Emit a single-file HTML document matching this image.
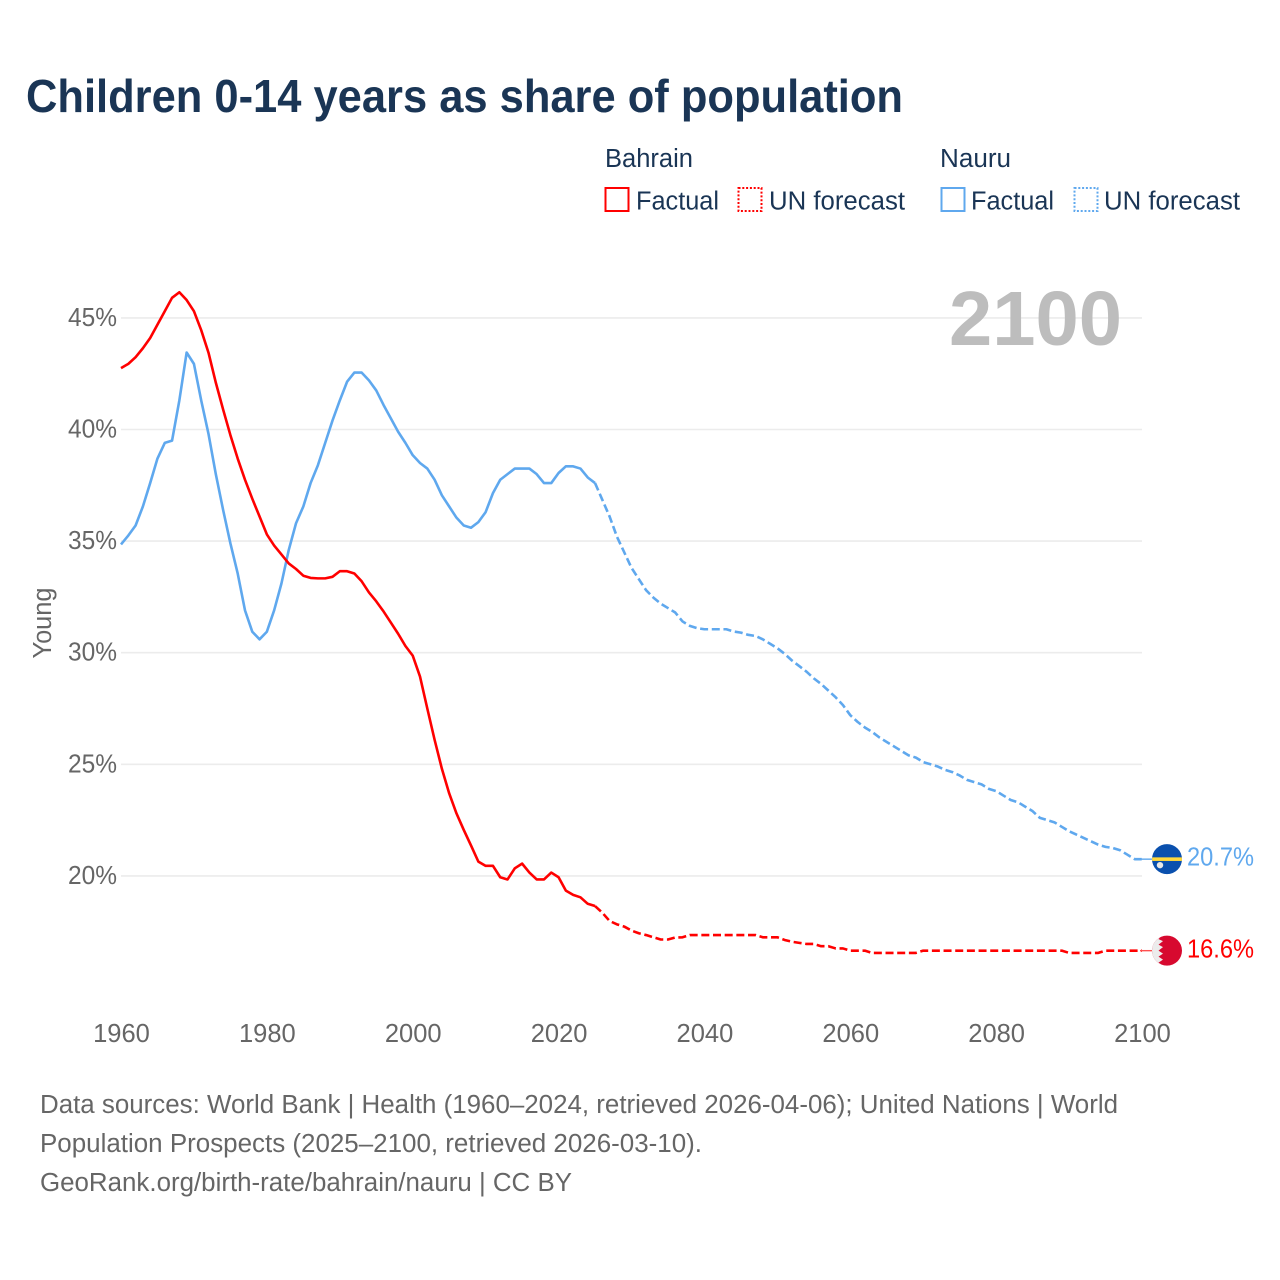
<!DOCTYPE html>
<html lang="en">
<head>
<meta charset="utf-8">
<title>Children 0-14 years as share of population</title>
<style>
  html, body { margin: 0; padding: 0; background: #fff; }
  svg { display: block; }
  text { font-family: "Liberation Sans", sans-serif; }
</style>
</head>
<body>
<svg id="chart" xmlns="http://www.w3.org/2000/svg" width="1280" height="1280" viewBox="0 0 1280 1280">
  <rect width="1280" height="1280" fill="#fff"/>
  <text x="26" y="112" font-size="46" font-weight="700" fill="#1a3555" textLength="877" lengthAdjust="spacingAndGlyphs">Children 0-14 years as share of population</text>

  <g font-size="25.5" fill="#1a3555">
    <text x="605" y="167" textLength="88" lengthAdjust="spacingAndGlyphs">Bahrain</text>
    <rect x="605.5" y="188" width="23" height="23" fill="none" stroke="#ff0000" stroke-width="2"/>
    <text x="636" y="209.5" textLength="83" lengthAdjust="spacingAndGlyphs">Factual</text>
    <rect x="738.5" y="188" width="23" height="23" fill="none" stroke="#ff0000" stroke-width="2" stroke-dasharray="2 1.8"/>
    <text x="769" y="209.5" textLength="136" lengthAdjust="spacingAndGlyphs">UN forecast</text>
    <text x="940" y="167" textLength="71" lengthAdjust="spacingAndGlyphs">Nauru</text>
    <rect x="941.5" y="188" width="23" height="23" fill="none" stroke="#5fa8ee" stroke-width="2"/>
    <text x="971" y="209.5" textLength="83" lengthAdjust="spacingAndGlyphs">Factual</text>
    <rect x="1074.5" y="188" width="23" height="23" fill="none" stroke="#5fa8ee" stroke-width="2" stroke-dasharray="2 1.8"/>
    <text x="1104" y="209.5" textLength="136" lengthAdjust="spacingAndGlyphs">UN forecast</text>
  </g>

  <g id="grid"></g>
  <g id="yticks"></g>
  <g id="xticks"></g>
  <text transform="translate(51 623) rotate(-90)" text-anchor="middle" font-size="25.5" fill="#666" textLength="71" lengthAdjust="spacingAndGlyphs">Young</text>
  <text x="949" y="345" font-size="77" font-weight="700" fill="#bdbdbd" textLength="173" lengthAdjust="spacingAndGlyphs">2100</text>

  <g id="series"></g>

  <defs>
    <clipPath id="clip-nauru"><circle id="clip-nauru-c" cx="1167" cy="859" r="15"/></clipPath>
    <clipPath id="clip-bahrain"><circle id="clip-bahrain-c" cx="1167" cy="951" r="15"/></clipPath>
  </defs>
  <g id="flag-nauru">
    <g clip-path="url(#clip-nauru)">
      <rect x="1150" y="842" width="34" height="34" fill="#0a50ae"/>
      <rect x="1150" y="857.2" width="34" height="3.6" fill="#ffd83c"/>
      <circle cx="1160" cy="865" r="3.2" fill="#e8e8e8"/>
    </g>
  </g>
  <g id="flag-bahrain">
    <g clip-path="url(#clip-bahrain)">
      <rect x="1150" y="934" width="34" height="34" fill="#d7092f"/>
      <polygon fill="#ececec" points="1150,934 1163,934 1158.5,939.5 1163,941.5 1158.5,945 1163,947.5 1158.5,951 1163,954 1158.5,957 1163,960 1158.5,963 1163,966 1159,968 1150,968"/>
    </g>
  </g>
  <text id="label-nauru" x="1187" y="866" font-size="25.5" fill="#5fa8ee" textLength="67" lengthAdjust="spacingAndGlyphs"></text>
  <text id="label-bahrain" x="1187" y="958" font-size="25.5" fill="#ff0000" textLength="67" lengthAdjust="spacingAndGlyphs"></text>

  <g font-size="25.5" fill="#666">
    <text x="40" y="1113" textLength="1078" lengthAdjust="spacingAndGlyphs">Data sources: World Bank | Health (1960–2024, retrieved 2026-04-06); United Nations | World</text>
    <text x="40" y="1152" textLength="662" lengthAdjust="spacingAndGlyphs">Population Prospects (2025–2100, retrieved 2026-03-10).</text>
    <text x="40" y="1191" textLength="532" lengthAdjust="spacingAndGlyphs">GeoRank.org/birth-rate/bahrain/nauru | CC BY</text>
  </g>
</svg>

<script>
const firstYear = 1960;
const forecastStartYear = 2025;
const xTicks = [1960, 1980, 2000, 2020, 2040, 2060, 2080, 2100];
const yTicks = [20, 25, 30, 35, 40, 45];
const endLabelNauru = '20.7%';
const endLabelBahrain = '16.6%';

const bahrainFactual = [
  42.75,42.94,43.24,43.64,44.1,44.7,45.3,45.9,46.15,45.8,
  45.3,44.45,43.44,42.1,40.9,39.75,38.7,37.75,36.9,36.1,
  35.3,34.8,34.4,34.0,33.75,33.45,33.35,33.33,33.33,33.4,
  33.65,33.65,33.55,33.2,32.7,32.3,31.85,31.35,30.85,30.3,
  29.87,28.93,27.5,26.1,24.8,23.7,22.8,22.06,21.36,20.64,
  20.45,20.45,19.94,19.84,20.34,20.55,20.15,19.84,19.84,20.15,
  19.94,19.34,19.15,19.04,18.75,18.65
];
const bahrainForecast = [
  18.65,18.35,17.98,17.83,17.73,17.55,17.43,17.35,17.25,17.15,17.15,17.24,17.25,17.35,17.35,
  17.35,17.35,17.35,17.35,17.35,17.35,17.35,17.35,
  17.25,17.25,17.25,17.13,17.05,17.0,16.95,16.95,16.85,16.85,16.75,16.75,
  16.65,16.65,16.65,
  16.55,16.55,16.55,16.55,16.55,16.55,16.55,
  16.65,16.65,16.65,16.65,16.65,16.65,16.65,16.65,16.65,16.65,
  16.65,16.65,16.65,16.65,16.65,16.65,16.65,16.65,16.65,16.65,
  16.55,16.55,16.55,16.55,16.55,
  16.65,16.65,16.65,16.65,16.65,16.65
];
const nauruFactual = [
  34.85,35.25,35.7,36.55,37.6,38.7,39.4,39.5,41.3,43.45,
  42.94,41.3,39.8,38.0,36.4,34.9,33.55,31.9,30.94,30.6,
  30.94,31.9,33.1,34.6,35.8,36.55,37.6,38.4,39.4,40.4,
  41.3,42.14,42.55,42.55,42.2,41.75,41.1,40.5,39.9,39.4,
  38.85,38.5,38.25,37.75,37.05,36.55,36.05,35.7,35.6,35.85,
  36.3,37.15,37.75,38.0,38.25,38.25,38.25,38.0,37.6,37.6,
  38.05,38.35,38.35,38.25,37.85,37.6
];
const nauruForecast = [
  37.6,36.85,36.1,35.2,34.5,33.8,33.3,32.8,32.47,32.2,32.0,31.8,31.4,31.2,31.1,
  31.05,31.05,31.05,31.05,30.95,30.9,30.8,30.75,30.6,30.4,
  30.2,29.95,29.65,29.4,29.15,28.85,28.6,28.3,28.0,27.65,
  27.2,26.9,26.65,26.45,26.2,26.0,25.8,25.6,25.4,25.3,
  25.1,25.0,24.9,24.75,24.65,24.5,24.3,24.2,24.1,23.9,
  23.8,23.6,23.4,23.3,23.1,22.9,22.6,22.5,22.4,22.2,
  22.0,21.85,21.7,21.55,21.4,21.3,21.25,21.15,20.95,20.75,20.75
];

const SVG_NS = 'http://www.w3.org/2000/svg';
const xLeft = 121, xRight = 1142, yearMin = 1960, yearMax = 2100;
const yRef20 = 875.9, pxPerPercent = 22.32;
const connectorEnd = 1152;

function xScale(year) {
  return xLeft + (year - yearMin) * (xRight - xLeft) / (yearMax - yearMin);
}
function yScale(value) {
  return yRef20 - (value - 20) * pxPerPercent;
}
function pathFrom(values, startYear) {
  return values.map(function (v, i) {
    return (i ? 'L' : 'M') + xScale(startYear + i).toFixed(2) + ' ' + yScale(v).toFixed(2);
  }).join(' ');
}

const gridGroup = document.getElementById('grid');
const yTickGroup = document.getElementById('yticks');
const xTickGroup = document.getElementById('xticks');
const seriesGroup = document.getElementById('series');

yTicks.forEach(function (t) {
  const line = document.createElementNS(SVG_NS, 'line');
  
  
  line.setAttribute('x1', xLeft);
  line.setAttribute('x2', xRight);
  line.setAttribute('y1', yScale(t));
  line.setAttribute('y2', yScale(t));
  line.setAttribute('stroke', '#ececec');
  line.setAttribute('stroke-width', '1.6');
  gridGroup.appendChild(line);

  const label = document.createElementNS(SVG_NS, 'text');
  
  
  label.setAttribute('x', 68);
  label.setAttribute('y', yScale(t) + 8);
  label.setAttribute('font-size', '25.5');
  label.setAttribute('fill', '#666');
  label.setAttribute('textLength', '49');
  label.setAttribute('lengthAdjust', 'spacingAndGlyphs');
  label.textContent = t + '%';
  yTickGroup.appendChild(label);
});

xTicks.forEach(function (t) {
  const label = document.createElementNS(SVG_NS, 'text');
  
  
  label.setAttribute('x', xScale(t) + 0.5);
  label.setAttribute('y', 1042);
  label.setAttribute('text-anchor', 'middle');
  label.setAttribute('font-size', '25.5');
  label.setAttribute('fill', '#666');
  label.textContent = t;
  xTickGroup.appendChild(label);
});

function addLine(name, d, color, dash) {
  const p = document.createElementNS(SVG_NS, 'path');
  
  
  p.setAttribute('d', d);
  p.setAttribute('fill', 'none');
  p.setAttribute('stroke', color);
  p.setAttribute('stroke-width', '2.6');
  p.setAttribute('stroke-linejoin', 'round');
  if (dash) p.setAttribute('stroke-dasharray', dash);
  seriesGroup.appendChild(p);
}
function addConnector(name, value, color) {
  const l = document.createElementNS(SVG_NS, 'line');
  
  
  l.setAttribute('x1', xScale(yearMax) - 2);
  l.setAttribute('x2', connectorEnd);
  l.setAttribute('y1', yScale(value));
  l.setAttribute('y2', yScale(value));
  l.setAttribute('stroke', color);
  l.setAttribute('stroke-width', '1.4');
  seriesGroup.appendChild(l);
}

addLine('nauru-factual-line', pathFrom(nauruFactual, firstYear), '#5fa8ee');
addLine('nauru-forecast-line', pathFrom(nauruForecast, forecastStartYear), '#5fa8ee', '8 3.67');
addLine('bahrain-factual-line', pathFrom(bahrainFactual, firstYear), '#ff0000');
addLine('bahrain-forecast-line', pathFrom(bahrainForecast, forecastStartYear), '#ff0000', '8 3.67');

const lastNauru = nauruForecast[nauruForecast.length - 1];
const lastBahrain = bahrainForecast[bahrainForecast.length - 1];
addConnector('nauru-flag-connector', lastNauru, '#5fa8ee');
addConnector('bahrain-flag-connector', lastBahrain, '#ff5050');

document.getElementById('flag-nauru').setAttribute('transform', 'translate(0 ' + (yScale(lastNauru) - 859).toFixed(2) + ')');
document.getElementById('flag-bahrain').setAttribute('transform', 'translate(0 ' + (yScale(lastBahrain) - 951).toFixed(2) + ')');
const labelNauru = document.getElementById('label-nauru');
labelNauru.setAttribute('y', (yScale(lastNauru) + 6.5).toFixed(2));
labelNauru.textContent = endLabelNauru;
const labelBahrain = document.getElementById('label-bahrain');
labelBahrain.setAttribute('y', (yScale(lastBahrain) + 7).toFixed(2));
labelBahrain.textContent = endLabelBahrain;
</script>
</body>
</html>
